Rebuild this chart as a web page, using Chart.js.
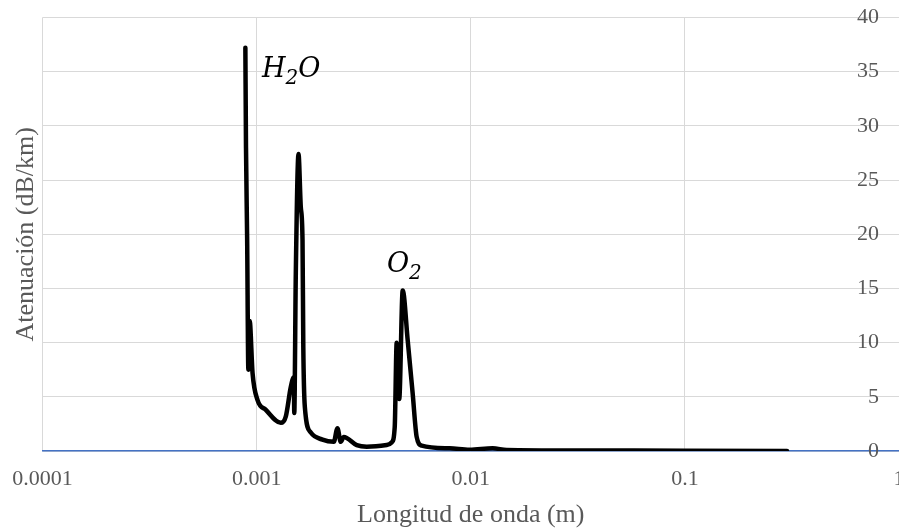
<!DOCTYPE html>
<html lang="es">
<head>
<meta charset="UTF-8">
<title>Atenuación atmosférica</title>
<script src="https://cdn.jsdelivr.net/npm/chart.js"></script>
<style>
  body { margin: 0; background: #fff; }
  #chart { display: block; }
</style>
</head>
<body>
<canvas id="chart" width="899" height="531"></canvas>
<script>
// wavelength (m) and attenuation (dB/km)
const wavelength = [
  0.000886, 0.000892, 0.000903, 0.000915, 0.000928, 0.000957, 0.00101, 0.001104,
  0.001297, 0.001369, 0.001444, 0.001492, 0.001499, 0.001524, 0.001569, 0.001608,
  0.001638, 0.001652, 0.001679, 0.001791, 0.00203, 0.002293, 0.002385, 0.002471,
  0.002552, 0.002935, 0.003268, 0.004051, 0.004275, 0.004415, 0.00451, 0.004634,
  0.004811, 0.005077, 0.005355, 0.00559, 0.005899, 0.00797, 0.009883, 0.012655,
  0.014706, 0.032228, 0.1, 0.3
];
const attenuation = [
  37.2, 28.0, 19.7, 7.5, 12.0, 7.2, 4.7, 3.8,
  2.6, 3.2, 5.9, 6.8, 3.5, 16.4, 27.4, 22.5,
  19.5, 9.6, 4.1, 1.7, 1.05, 0.85, 2.1, 0.85,
  1.3, 0.55, 0.4, 0.55, 0.8, 2.2, 10.0, 4.8,
  14.8, 10.2, 5.3, 1.3, 0.5, 0.25, 0.12, 0.25,
  0.1, 0.05, 0.02, 0.01
];

const xTickValues = [0.0001, 0.001, 0.01, 0.1, 1];
const xTickLabels = ['0.0001', '0.001', '0.01', '0.1', '1'];

// peak labels: [main, subscript, tail, x, y]
const peakLabels = [
  ['H', '2', 'O', 0.00106, 34.5],
  ['O', '2', '', 0.00406, 16.5]
];

const grey = '#595959';
const serif = '"Liberation Serif", "Times New Roman", serif';

const labelPlugin = {
  id: 'labels',
  afterDraw(chart) {
    const ctx = chart.ctx;
    const area = chart.chartArea;
    ctx.save();
    // y axis title on the left
    ctx.fillStyle = grey;
    ctx.font = '26px ' + serif;
    ctx.textAlign = 'center';
    ctx.textBaseline = 'middle';
    ctx.translate(26, (area.top + area.bottom) / 2);
    ctx.rotate(-Math.PI / 2);
    ctx.fillText('Atenuación (dB/km)', 0, 0);
    ctx.restore();

    ctx.save();
    ctx.fillStyle = '#000';
    ctx.textAlign = 'left';
    ctx.textBaseline = 'alphabetic';
    const big = 'italic 27px "DejaVu Serif", serif';
    const small = 'italic 20px "DejaVu Serif", serif';
    peakLabels.forEach(p => {
      let x = chart.scales.x.getPixelForValue(p[3]);
      const y = chart.scales.y.getPixelForValue(p[4]);
      ctx.font = big;
      ctx.fillText(p[0], x, y);
      x += ctx.measureText(p[0]).width;
      ctx.font = small;
      ctx.fillText(p[1], x, y + 7);
      x += ctx.measureText(p[1]).width;
      ctx.font = big;
      if (p[2]) ctx.fillText(p[2], x, y);
    });
    ctx.restore();
  }
};

new Chart(document.getElementById('chart'), {
  type: 'line',
  data: {
    datasets: [{
      data: wavelength.map((w, i) => ({ x: w, y: attenuation[i] })),
      borderColor: '#000',
      borderWidth: 4.5,
      pointRadius: 0,
      cubicInterpolationMode: 'monotone',
      borderJoinStyle: 'round',
      borderCapStyle: 'round',
      fill: false
    }]
  },
  options: {
    responsive: false,
    animation: false,
    layout: { padding: { left: 42.5, right: 0, top: 17.5, bottom: 0 } },
    plugins: { legend: { display: false }, tooltip: { enabled: false } },
    scales: {
      x: {
        type: 'logarithmic',
        min: 0.0001,
        max: 1,
        afterBuildTicks: s => { s.ticks = xTickValues.map(v => ({ value: v })); },
        afterFit: s => { s.height = 80; s.paddingLeft = 0; s.paddingRight = 0; },
        grid: { color: '#d9d9d9', lineWidth: 1, drawTicks: false },
        border: { display: true, color: '#4472c4', width: 1.5 },
        ticks: {
          autoSkip: false,
          maxRotation: 0,
          padding: 15,
          color: grey,
          font: { family: serif, size: 22 },
          callback: (v, i) => xTickLabels[i]
        },
        title: {
          display: true,
          text: 'Longitud de onda (m)',
          color: grey,
          font: { family: serif, size: 26 },
          padding: { top: 0, bottom: 0 }
        }
      },
      y: {
        position: 'right',
        min: 0,
        max: 40,
        afterFit: s => { s.width = 0; s.paddingTop = 0; s.paddingBottom = 0; },
        grid: { color: '#d9d9d9', lineWidth: 1, drawTicks: false },
        border: { display: false },
        ticks: {
          stepSize: 5,
          mirror: true,
          padding: -20,
          color: grey,
          font: { family: serif, size: 22 }
        }
      }
    }
  },
  plugins: [labelPlugin]
});
</script>
</body>
</html>
